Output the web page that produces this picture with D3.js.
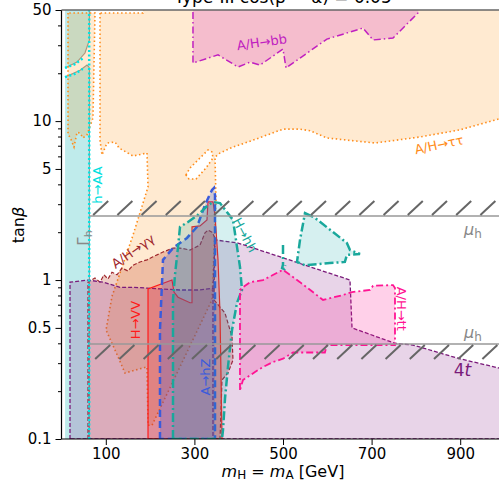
<!DOCTYPE html>
<html>
<head>
<meta charset="utf-8">
<script src="https://cdn.jsdelivr.net/npm/d3@7"></script>
<style>
body { margin: 0; background: #fff; }
svg { display: block; font-family: "DejaVu Sans", sans-serif; }
</style>
</head>
<body>
<script>
// regions as [m_H in GeV, tanβ] pairs
const gammaHUpper = [[8,50],[63,50],[63,32.4],[53,26.8],[35,23.5],[8,21.6]];
const gammaHLower = [[8,18.9],[42,20.9],[57.6,22.5],[62,21.9],[63,21.5],[63,0.1],[8,0.1]];
const gammaHLine1 = [[8,21.6],[35,23.5],[53,26.8],[63,32.4],[63,50]];
const gammaHLine2 = [[8,18.9],[42,20.9],[57.6,22.5],[62,21.9],[63,21.5],[63,0.1]];
const hAALine = [[62.5,0.1],[62.5,50]];
const hAACurve1 = [[8,21.6],[30,22.8],[48,24.8]];
const hAACurve2 = [[8,18.9],[30,19.8],[48,21.3]];

const tauLeft = [[14.7,47.9],[14.7,8.2],[19.2,7.94],[28.2,6.87],[35,8.5],[41.8,8.4],[48.5,7.83],[57.6,8.2],[71,10.46],[75.6,47.9]];
const tauMain = [[86.9,47.9],[86.9,7.6],[91.4,6.12],[102.7,7.28],[120.8,7.39],[130,6.77],[161.5,6.03],[193,6.3],[195.3,3.85],[161.5,1.92],[114,0.79],[100.5,0.485],[125.3,0.34],[143.3,0.26],[184,0.28],[193,0.284],[195.3,0.122],[204.3,0.122],[339.7,0.75],[348.8,3.19],[346.5,5.94],[357.8,6.3],[387.1,6.87],[421,7.39],[500,8.9],[538.4,8.9],[561,8.7],[599.1,7.83],[707.7,7.28],[808.3,7.94],[898.6,8.8],[986.5,10.3],[1012,10.6],[1012,60],[190,60],[184,47.9]];
const tauHole = [[281,4.58],[290,5.07],[312.6,5.86],[330.7,6.58],[339.7,6.39],[342,5.86],[326.2,5.07],[303.6,4.32],[287.8,4.32]];

const bb = [[296.8,60],[296.8,23.2],[353.3,26.1],[398.4,21.9],[425.5,23.5],[448.1,22.5],[500,28.4],[506.8,21.6],[599.1,32.8],[680.6,38.5],[703.2,32.4],[748.3,33.3],[804.7,47.9],[812,60]];

const gaga = [[59.8,0.1],[59.8,0.97],[75.6,1.03],[86.9,0.97],[95.9,1.08],[104.9,1.015],[114,1.12],[125.3,1.08],[136.6,1.19],[150.1,1.14],[161.5,1.24],[177.2,1.3],[193,1.34],[206.5,1.4],[229.1,1.5],[251.7,1.59],[267.5,1.59],[290,1.545],[312.6,1.66],[323.9,1.98],[330.7,2.06],[339.7,2.0],[346.5,1.84],[344.2,0.75],[369.1,0.62],[384.9,0.44],[387.1,0.314],[375.8,0.26],[362.3,0.235],[357.8,0.1]];

const fourT = [[19.2,0.1],[19.2,0.97],[59.8,1.0],[93.7,0.97],[116.3,0.93],[132,0.9],[161.5,0.9],[193,0.89],[222.3,0.88],[267.5,0.866],[312.6,0.866],[342,0.89],[346.5,1.79],[398.4,1.71],[500,1.38],[651.2,1.0],[655.8,0.5],[752.8,0.4],[793.5,0.39],[898.6,0.32],[986.5,0.28],[1012,0.27],[1012,0.1]];
const fourTInner = [[342,0.89],[342,0.1]];

const vv = [[195.3,0.1],[195.3,0.88],[249.4,1.0],[254,0.84],[263,0.78],[290,0.72],[294.6,0.72],[294.6,2.16],[312.6,2.19],[328.4,2.39],[330.7,3.1],[342,3.1],[346.5,2.57],[353.3,1.34],[357.8,0.62],[362.3,0.1]];

const hz = [[222.3,0.1],[222.3,0.485],[229.1,1.34],[251.7,1.59],[283.3,1.84],[305.9,2.16],[323.9,2.97],[339.7,3.69],[344.2,3.8],[346.5,3.43],[346.5,0.1]];

const hh = [[251.7,0.1],[251.7,0.75],[256.2,1.08],[263,1.61],[267.5,2.16],[285.6,2.32],[308.1,2.57],[326.2,2.88],[342,3.1],[357.8,3.05],[387.1,2.39],[402.9,1.21],[407.4,0.866],[396.2,0.72],[384.9,0.485],[375.8,0.284],[369.1,0.18],[364.6,0.114],[362.3,0.1]];
const hhIsland = [[549.7,2.64],[572.3,2.46],[644.2,1.71],[651.2,1.545],[673.8,1.46],[644.2,1.44],[639.7,1.3],[605.9,1.28],[549.7,1.24],[531.6,1.3],[538.4,1.79]];
const hhSliver = [[500,1.66],[500,1.25],[498,1.19],[503,1.17],[505,1.24]];

const tt = [[402.9,0.203],[402.9,0.866],[409.7,0.9],[425.5,0.97],[454.9,1.0],[500,1.16],[538.4,0.97],[590.3,0.75],[635.4,0.805],[655.8,0.84],[696.4,0.866],[703.2,0.92],[748.3,0.93],[752.8,0.89],[752.8,0.39],[599.1,0.39],[594.6,0.35],[522.6,0.35],[500,0.32],[477.4,0.305],[454.9,0.284],[436.8,0.264],[409.7,0.235]];

const muBands = [2.53, 0.396];

const xTicks = [100, 300, 500, 700, 900];
const yTicks = [0.1, 0.5, 1, 5, 10, 50];
const yMinor = [0.2,0.3,0.4,0.6,0.7,0.8,0.9,2,3,4,6,7,8,9,20,30,40];

const labels = [
  {t: "A/H→bb", m: 452, v: 31.4, rot: -8, c: "#c020c0", s: 13},
  {t: "A/H→ττ", m: 852, v: 7.1, rot: -12, c: "#ff8c1a", s: 13},
  {t: "h→AA", m: 80, v: 3.96, rot: -90, c: "#00dede", s: 13},
  {t: "A/H→γγ", m: 161.5, v: 1.52, rot: -35, c: "#a0282d", s: 13},
  {t: "H→VV", m: 168, v: 0.56, rot: -90, c: "#ff1a1a", s: 13},
  {t: "A→hZ", m: 324, v: 0.245, rot: -90, c: "#3b5bdb", s: 13},
  {t: "H→hh", m: 414, v: 1.92, rot: 62, c: "#1aa89c", s: 13},
  {t: "A/H→tt", m: 768, v: 0.66, rot: 90, c: "#ff1493", s: 13}
];

const svg = d3.select("body").append("svg")
  .attr("width", 499).attr("height", 483);

const x = d3.scaleLinear().domain([0, 1000]).range([61.5, 504.5]);
const y = d3.scaleLog().domain([0.1, 50]).range([439, 10]);

svg.append("defs").append("clipPath").attr("id", "plot")
  .append("rect").attr("x", 61.5).attr("y", 10).attr("width", 443).attr("height", 429);

const g = svg.append("g").attr("clip-path", "url(#plot)");
const line = d3.line().x(d => x(d[0])).y(d => y(d[1]));

function region(pts, fill, stroke, width, dash) {
  g.append("path").attr("d", line(pts) + "Z")
    .attr("fill", fill)
    .attr("stroke", stroke)
    .attr("stroke-width", width)
    .attr("stroke-dasharray", dash);
}
function curve(pts, stroke, width, dash) {
  g.append("path").attr("d", line(pts))
    .attr("fill", "none")
    .attr("stroke", stroke)
    .attr("stroke-width", width)
    .attr("stroke-dasharray", dash);
}

// Gamma_h
region(gammaHUpper, "rgba(0,175,175,0.25)", "none", 0, null);
region(gammaHLower, "rgba(0,175,175,0.25)", "none", 0, null);
curve(gammaHLine1, "#999", 1.2, null);
curve(gammaHLine2, "#999", 1.2, null);

// tau tau
const tauCol = "#ff8c1a";
region(tauLeft, "rgba(255,140,0,0.18)", tauCol, 1.6, "1.5,2.6");
region(tauMain, "rgba(255,140,0,0.18)", tauCol, 1.6, "1.5,2.6");
region(tauHole, "#fff", tauCol, 1.6, "1.5,2.6");

// b b
region(bb, "rgba(210,30,190,0.22)", "#c020c0", 1.5, "7,3,1.5,3");

// gamma gamma
region(gaga, "rgba(190,60,30,0.25)", "#a0282d", 1.2, "4,2");

// 4t
region(fourT, "rgba(140,40,140,0.2)", "#7a1a7a", 1.3, "4,2");
curve(fourTInner, "#7a1a7a", 1.3, "4,2");

// VV
region(vv, "rgba(255,0,0,0.18)", "#ff1a1a", 1.2, null);

// hZ
region(hz, "rgba(60,90,210,0.25)", "#3b5bdb", 2.5, "7,4");

// hh
region(hh, "rgba(0,160,160,0.16)", "#1aa89c", 2.5, "9,3,2,3");
region(hhIsland, "rgba(0,160,160,0.16)", "#1aa89c", 2.5, "9,3,2,3");
curve(hhSliver, "#1aa89c", 2.5, "9,3,2,3");

// t t
region(tt, "rgba(255,20,147,0.2)", "#ff1493", 1.8, "7,3,2,3");

// h -> AA
curve(hAALine, "#00e5e5", 2.5, "2,2.5");
curve(hAACurve1, "#00e5e5", 2.5, "2,2.5");
curve(hAACurve2, "#00e5e5", 2.5, "2,2.5");

// mu_h hatched bands
const x0 = x(62.5);
muBands.forEach(function(v, i) {
  const yl = y(v);
  g.append("line").attr("x1", x0).attr("x2", 504).attr("y1", yl).attr("y2", yl)
    .attr("stroke", "#999").attr("stroke-width", 1.5);
  d3.range(x0 + (i == 0 ? 4 : 6), 499, 24.2).forEach(function(px) {
    const ya = i == 0 ? yl - 1 : yl + 15;
    g.append("line").attr("x1", px).attr("y1", ya)
      .attr("x2", px + 15).attr("y2", ya - 14)
      .attr("stroke", "#666").attr("stroke-width", 2);
  });
  svg.append("text").attr("x", 473).attr("y", i == 0 ? yl + 19 : yl - 6)
    .attr("fill", "#888").attr("font-size", 16).attr("text-anchor", "middle")
    .html('<tspan font-style="italic">μ</tspan><tspan font-size="12" dy="3">h</tspan>');
});

// labels
labels.forEach(function(l) {
  svg.append("text")
    .attr("transform", "translate(" + x(l.m) + "," + y(l.v) + ") rotate(" + l.rot + ")")
    .attr("text-anchor", "middle").attr("dy", "0.35em")
    .attr("fill", l.c).attr("font-size", l.s).text(l.t);
});
svg.append("text")
  .attr("transform", "translate(" + x(50.8) + "," + y(1.84) + ") rotate(-90)")
  .attr("text-anchor", "middle").attr("dy", "0.35em")
  .attr("fill", "#888").attr("font-size", 15)
  .html('Γ<tspan font-size="11" dy="3">h</tspan>');
svg.append("text")
  .attr("x", x(905)).attr("y", y(0.27)).attr("dy", "0.35em")
  .attr("text-anchor", "middle").attr("fill", "#7a1a7a").attr("font-size", 17)
  .html('4<tspan font-style="italic">t</tspan>');

// axes
const yAxis = d3.axisLeft(y).tickValues(yTicks).tickFormat(d => d).tickSize(6).tickPadding(4);
const yAxisMinor = d3.axisLeft(y).tickValues(yMinor).tickFormat("").tickSize(3.5);
const xAxis = d3.axisBottom(x).tickValues(xTicks).tickSize(6).tickPadding(3);

const ya = svg.append("g").attr("transform", "translate(61.5,0)").call(yAxis);
svg.append("g").attr("transform", "translate(61.5,0)").call(yAxisMinor).select(".domain").remove();
const xa = svg.append("g").attr("transform", "translate(0,439)").call(xAxis);
[ya, xa].forEach(a => {
  a.select(".domain").remove();
  a.selectAll("text").attr("font-size", 15).attr("fill", "#000").attr("font-family", "DejaVu Sans");
});

svg.append("line").attr("x1", 61.5).attr("x2", 61.5).attr("y1", 10).attr("y2", 439)
  .attr("stroke", "#000").attr("stroke-width", 1.2);
svg.append("line").attr("x1", 61.5).attr("x2", 504).attr("y1", 439).attr("y2", 439)
  .attr("stroke", "#000").attr("stroke-width", 1.2);
svg.append("line").attr("x1", 61.5).attr("x2", 504).attr("y1", 10).attr("y2", 10)
  .attr("stroke", "#666").attr("stroke-width", 1.5);

// titles
svg.append("text").attr("x", 283).attr("y", 3).attr("text-anchor", "middle")
  .attr("font-size", 17)
  .text("Type-III cos(β − α) = 0.05");
svg.append("text").attr("x", 283).attr("y", 477).attr("text-anchor", "middle")
  .attr("font-size", 16)
  .html('<tspan font-style="italic">m</tspan><tspan font-size="12" dy="2">H</tspan><tspan dy="-2"> = </tspan><tspan font-style="italic">m</tspan><tspan font-size="12" dy="2">A</tspan><tspan dy="-2"> [GeV]</tspan>');
svg.append("text")
  .attr("transform", "translate(24,225) rotate(-90)")
  .attr("text-anchor", "middle").attr("font-size", 16)
  .html('tan<tspan font-style="italic">β</tspan>');
</script>
</body>
</html>
